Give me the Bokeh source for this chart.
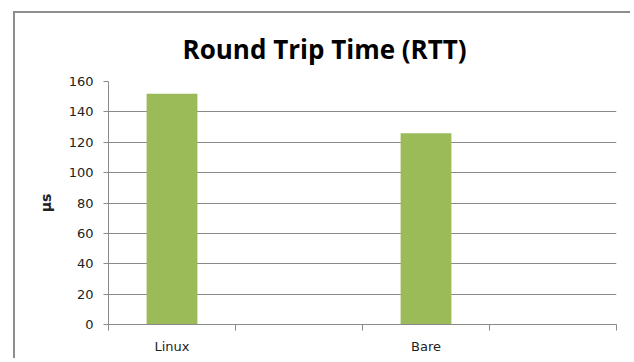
from bokeh.plotting import figure
from bokeh.models import Range1d, LinearAxis, FixedTicker
from bokeh.embed import file_html
from bokeh.resources import INLINE

# ---- data ----
categories = ["Linux", "", "Bare", ""]
rtt_us = [152, None, 126, None]
y_ticks = [0, 20, 40, 60, 80, 100, 120, 140, 160]
title_text = "Round Trip Time (RTT)"
y_label = "µs"

GREY = "#8a8a8a"
BAR = "#9BBB59"
TXT = "#222222"

n = len(categories)
centers = [i + 0.5 for i in range(n)]
bar_x = [c for c, v in zip(centers, rtt_us) if v is not None]
bar_top = [v for v in rtt_us if v is not None]
label_pos = [c for c, lab in zip(centers, categories) if lab]
label_txt = [lab for lab in categories if lab]

p = figure(
    x_range=Range1d(0, n),
    y_range=Range1d(y_ticks[0], y_ticks[-1]),
    width=617, height=347,
    output_backend="svg", toolbar_location=None,
    x_axis_location=None,
    title=title_text,
    min_border_left=93, min_border_right=16, min_border_top=68, min_border_bottom=36,
)
p.margin = (11, 0, 0, 13)
p.styles = {"border-left": "2px solid #8e8e8e", "border-top": "2px solid #8e8e8e"}

p.vbar(x=bar_x, top=bar_top, width=0.4, fill_color=BAR, line_color=None)

p.outline_line_color = None
p.background_fill_color = "white"
p.border_fill_color = "white"

# title
p.title.text_font = "Open Sans"
p.title.text_font_size = "26px"
p.title.text_font_style = "bold"
p.title.text_color = "#000000"
p.title.align = "left"
p.title.offset = 74
p.title.standoff = 30

# y axis
ya = p.yaxis[0]
ya.ticker = FixedTicker(ticks=y_ticks)
ya.axis_line_color = GREY
ya.major_tick_line_color = GREY
ya.major_tick_out = 5
ya.major_tick_in = 0
ya.minor_tick_line_color = None
ya.major_label_standoff = 10
ya.major_label_text_font = "DejaVu Sans"
ya.major_label_text_font_size = "13px"
ya.major_label_text_color = TXT
ya.axis_label = y_label
ya.axis_label_text_font = "DejaVu Sans"
ya.axis_label_text_font_size = "14px"
ya.axis_label_text_font_style = "bold"
ya.axis_label_text_color = TXT
ya.axis_label_standoff = 12

p.ygrid.grid_line_color = GREY
p.ygrid.ticker = FixedTicker(ticks=y_ticks)
p.xgrid.visible = False

# x axis: ticks at category boundaries (no labels)
bounds = list(range(n + 1))
tick_axis = LinearAxis(
    ticker=FixedTicker(ticks=bounds),
    major_label_overrides={b: "" for b in bounds},
    major_label_text_font_size="1px",
    major_label_standoff=0,
    major_tick_out=6, major_tick_in=0,
    minor_tick_line_color=None,
    axis_line_color=GREY, major_tick_line_color=GREY,
)
p.add_layout(tick_axis, "below")

# category labels at slot centres
label_axis = LinearAxis(
    ticker=FixedTicker(ticks=label_pos),
    major_label_overrides={c: lab for c, lab in zip(label_pos, label_txt)},
    axis_line_color=None,
    major_tick_line_color=None,
    minor_tick_line_color=None,
    major_label_standoff=2,
    major_label_text_font="DejaVu Sans",
    major_label_text_font_size="13px",
    major_label_text_color=TXT,
)
p.add_layout(label_axis, "below")

open("out.html", "w").write(file_html(p, INLINE))
